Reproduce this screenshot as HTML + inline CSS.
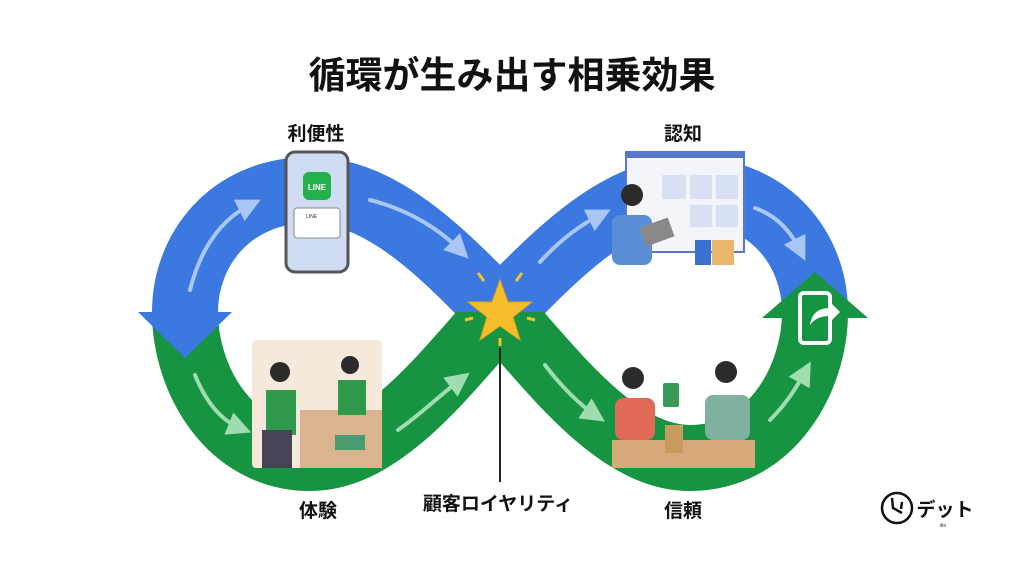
<!DOCTYPE html>
<html><head><meta charset="utf-8"><style>
body{margin:0;width:1024px;height:572px;background:#fff;overflow:hidden;font-family:"Liberation Sans","Noto Sans CJK JP",sans-serif}
</style></head><body>
<svg width="1024" height="572" viewBox="0 0 1024 572" xmlns="http://www.w3.org/2000/svg">
<defs>
<clipPath id="top"><rect x="0" y="0" width="1024" height="312"/></clipPath>
<clipPath id="bot"><rect x="0" y="312" width="1024" height="300"/></clipPath>
<marker id="mb" markerWidth="6" markerHeight="6" refX="3" refY="3" orient="auto" markerUnits="strokeWidth"><path d="M0,0 L6,3 L0,6Z" fill="#a9c6f5"/></marker>
<marker id="mg" markerWidth="6" markerHeight="6" refX="3" refY="3" orient="auto" markerUnits="strokeWidth"><path d="M0,0 L6,3 L0,6Z" fill="#9fdcb0"/></marker>
</defs>
<text x="512" y="88" text-anchor="middle" font-size="37" font-weight="bold" fill="#111" font-family="Liberation Sans,Noto Sans CJK JP,sans-serif">循環が生み出す相乗効果</text>
<g fill="none" stroke-width="66">
<path clip-path="url(#bot)" stroke="#169441" d="M500,312 C560,380 620,458 690,458 C770,458 815,380 815,312 C815,250 770,190 690,190 C620,190 560,250 500,312 C440,380 380,458 310,458 C230,458 185,380 185,312 C185,250 230,190 310,190 C380,190 440,250 500,312Z"/>
<path clip-path="url(#top)" stroke="#3b78e0" d="M500,312 C560,380 620,458 690,458 C770,458 815,380 815,312 C815,250 770,190 690,190 C620,190 560,250 500,312 C440,380 380,458 310,458 C230,458 185,380 185,312 C185,250 230,190 310,190 C380,190 440,250 500,312Z"/>
</g>
<polygon points="138,312 232,312 185,358" fill="#3b78e0"/>
<polygon points="762,318 868,318 815,272" fill="#169441"/>
<g stroke-width="4" fill="none" stroke-linecap="round">
<path d="M190,290 C200,250 220,220 250,205" stroke="#a9c6f5" marker-end="url(#mb)"/>
<path d="M370,200 C410,210 440,230 460,250" stroke="#a9c6f5" marker-end="url(#mb)"/>
<path d="M540,262 C560,240 580,225 600,215" stroke="#a9c6f5" marker-end="url(#mb)"/>
<path d="M755,208 C775,215 790,230 800,250" stroke="#a9c6f5" marker-end="url(#mb)"/>
<path d="M195,375 C205,400 220,420 240,428" stroke="#9fdcb0" marker-end="url(#mg)"/>
<path d="M398,430 C420,415 440,395 460,380" stroke="#9fdcb0" marker-end="url(#mg)"/>
<path d="M545,365 C560,385 580,405 595,415" stroke="#9fdcb0" marker-end="url(#mg)"/>
<path d="M770,420 C785,405 795,390 805,372" stroke="#9fdcb0" marker-end="url(#mg)"/>
</g>
<!-- phone -->
<rect x="286" y="152" width="62" height="120" rx="9" fill="#cfdcf2" stroke="#555" stroke-width="3"/>
<rect x="303" y="172" width="28" height="28" rx="6" fill="#22b14c"/>
<text x="317" y="190" text-anchor="middle" font-size="8" fill="#fff" font-weight="bold">LINE</text>
<rect x="294" y="208" width="46" height="30" rx="3" fill="#fff" stroke="#888"/>
<text x="306" y="218" font-size="5" fill="#333">LINE</text>
<!-- store -->
<rect x="252" y="340" width="130" height="128" rx="4" fill="#f5e9dc"/>
<rect x="300" y="410" width="82" height="58" fill="#d9b48f"/>
<circle cx="280" cy="372" r="10" fill="#2b2b2b"/><rect x="266" y="390" width="30" height="45" fill="#2f9a4c"/><rect x="262" y="430" width="30" height="38" fill="#445"/>
<circle cx="350" cy="365" r="9" fill="#2b2b2b"/><rect x="338" y="380" width="28" height="35" fill="#2f9a4c"/>
<rect x="335" y="435" width="30" height="15" fill="#4a9a70"/>
<!-- browser -->
<rect x="626" y="152" width="118" height="100" fill="#f3f5fa" stroke="#5577cc" stroke-width="2"/>
<rect x="626" y="152" width="118" height="6" fill="#5577cc"/>
<rect x="662" y="175" width="24" height="24" fill="#d7e1f3"/><rect x="690" y="175" width="22" height="24" fill="#d7e1f3"/><rect x="716" y="175" width="22" height="24" fill="#d7e1f3"/>
<rect x="690" y="205" width="22" height="22" fill="#d7e1f3"/><rect x="716" y="205" width="22" height="22" fill="#d7e1f3"/>
<circle cx="632" cy="195" r="11" fill="#2b2b2b"/><rect x="612" y="215" width="40" height="50" rx="8" fill="#5a8fd6"/>
<rect x="642" y="222" width="30" height="20" fill="#888" transform="rotate(-20 657 232)"/>
<rect x="695" y="240" width="16" height="25" fill="#3b6fd0"/><rect x="712" y="240" width="22" height="25" fill="#e8b76d"/>
<!-- friends -->
<rect x="612" y="440" width="143" height="28" fill="#d6a97a"/>
<circle cx="633" cy="378" r="11" fill="#2b2b2b"/><rect x="615" y="398" width="40" height="42" rx="8" fill="#e06a55"/>
<circle cx="726" cy="372" r="11" fill="#2b2b2b"/><rect x="705" y="395" width="45" height="45" rx="8" fill="#7fb0a0"/>
<rect x="663" y="383" width="16" height="24" rx="2" fill="#3a9a5a"/>
<rect x="665" y="425" width="18" height="28" fill="#c99a60"/>
<!-- right phone icon -->
<rect x="800" y="293" width="30" height="50" rx="4" fill="none" stroke="#fff" stroke-width="4"/>
<path d="M810,325 C812,312 820,308 830,308 l0,-6 10,10 -10,10 0,-6 C822,316 815,318 810,325Z" fill="#fff"/>
<!-- star -->
<polygon points="500,280 508,302 532,302 513,317 520,340 500,326 480,340 487,317 468,302 492,302" fill="#f6be2c" stroke="#e8a317" stroke-width="1"/>
<g stroke="#f4c42a" stroke-width="3"><line x1="478" y1="273" x2="484" y2="281"/><line x1="522" y1="273" x2="516" y2="281"/><line x1="465" y1="320" x2="473" y2="318"/><line x1="535" y1="320" x2="527" y2="318"/><line x1="500" y1="338" x2="500" y2="346"/></g>
<line x1="500" y1="348" x2="500" y2="482" stroke="#222" stroke-width="2"/>
<g font-size="19" font-weight="bold" fill="#111" text-anchor="middle" font-family="Liberation Sans,Noto Sans CJK JP,sans-serif">
<text x="316" y="140">利便性</text>
<text x="683" y="140">認知</text>
<text x="318" y="517">体験</text>
<text x="498" y="510">顧客ロイヤリティ</text>
<text x="683" y="517">信頼</text>
</g>
<circle cx="897" cy="508" r="15" fill="none" stroke="#111" stroke-width="2.5"/>
<path d="M892,498 L893,508 L902,513 M902,502 L901,509" stroke="#111" stroke-width="2.5" fill="none"/>
<text x="945" y="516" font-size="19" font-weight="bold" text-anchor="middle" fill="#111" font-family="Liberation Sans,Noto Sans CJK JP,sans-serif">デット</text>
<text x="943" y="527" font-size="5" text-anchor="middle" fill="#333">itto</text>
</svg>
</body></html>
